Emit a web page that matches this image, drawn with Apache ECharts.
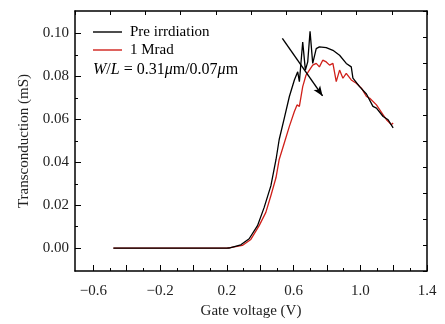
<!DOCTYPE html>
<html>
<head>
<meta charset="utf-8">
<script src="https://cdn.jsdelivr.net/npm/echarts@6/dist/echarts.min.js"></script>
<style>
  html, body { margin: 0; padding: 0; background: #fff; }
  #chart { width: 445px; height: 324px; }
</style>
</head>
<body>
<div id="chart"></div>
<script>
// Transconductance vs. gate voltage, before and after 1 Mrad irradiation
const seriesNames = ['Pre irrdiation', '1 Mrad'];

// Gate voltage (V) and transconductance (mS), pre-irradiation
const preGate = [-0.48, 0.0, 0.2, 0.213, 0.284, 0.334, 0.384, 0.424, 0.464, 0.495, 0.514, 0.545, 0.575,
  0.605, 0.625, 0.635, 0.655, 0.671, 0.685, 0.699, 0.715, 0.736, 0.755, 0.796, 0.836, 0.876, 0.916,
  0.946, 0.956, 0.996, 1.037, 1.076, 1.097, 1.137, 1.167, 1.197];
const preGm = [0, 0, 0, 0.0001, 0.0016, 0.0044, 0.0105, 0.0190, 0.0290, 0.0413, 0.0506, 0.0607, 0.0706,
  0.0783, 0.0821, 0.0775, 0.0960, 0.0829, 0.0867, 0.1009, 0.0860, 0.0929, 0.0937, 0.0934, 0.0921, 0.0898, 0.0860,
  0.0844, 0.0792, 0.0752, 0.0718, 0.0660, 0.0652, 0.0613, 0.0598, 0.0560];

// Gate voltage (V) and transconductance (mS), after 1 Mrad
const radGate = [-0.48, 0.0, 0.2, 0.213, 0.293, 0.344, 0.394, 0.434, 0.464, 0.495, 0.514, 0.545, 0.575,
  0.605, 0.621, 0.635, 0.655, 0.675, 0.695, 0.715, 0.736, 0.755, 0.775, 0.796, 0.816, 0.836, 0.856,
  0.876, 0.896, 0.916, 0.946, 0.976, 1.007, 1.037, 1.057, 1.097, 1.137, 1.157, 1.167, 1.187, 1.197];
const radGm = [0, 0, 0, 0.0002, 0.0013, 0.0041, 0.0105, 0.0167, 0.0244, 0.0329, 0.0413, 0.0491, 0.0567,
  0.0636, 0.0667, 0.0660, 0.0752, 0.0806, 0.0829, 0.0852, 0.0860, 0.0844, 0.0875, 0.0867, 0.0852, 0.0860, 0.0775,
  0.0829, 0.0791, 0.0814, 0.0783, 0.0768, 0.0745, 0.0706, 0.0698, 0.0667, 0.0621, 0.0598, 0.0606, 0.0575, 0.0583];

// Arrow showing the shift of the peak, [gate voltage, transconductance]
const arrowStart = [0.533, 0.0977];
const arrowEnd = [0.774, 0.0709];

// Axis ticks and labels
const xMajorTicks = [-0.6, -0.4, -0.2, 0.0, 0.2, 0.4, 0.6, 0.8, 1.0, 1.2, 1.4];
const xMinorTicks = [-0.5, -0.3, -0.1, 0.1, 0.3, 0.5, 0.7, 0.9, 1.1, 1.3];
const xTickLabels = [-0.6, -0.2, 0.2, 0.6, 1.0, 1.4];
const yMajorTicks = [0, 0.02, 0.04, 0.06, 0.08, 0.10];
const yMinorTicks = [0.01, 0.03, 0.05, 0.07, 0.09];

const zip = (xs, ys) => xs.map((x, i) => [x, ys[i]]);

const FONT = '"Liberation Serif", "Times New Roman", serif';
const xMin = -0.71, xMax = 1.4;
const yMin = -0.0106, yMax = 0.1104;

const chart = echarts.init(document.getElementById('chart'), null, { renderer: 'canvas' });

// Plain frame axes (top and right) carrying only evenly spaced inward ticks
function frameAxis(position) {
  return {
    type: 'value', position: position, min: 0, max: 10, interval: 1,
    axisLine: { show: true, onZero: false, lineStyle: { color: '#000', width: 1.5 } },
    axisTick: { show: true, inside: true, length: 4, lineStyle: { color: '#000', width: 1 } },
    axisLabel: { show: false },
    splitLine: { show: false }
  };
}

chart.setOption({
  animation: false,
  backgroundColor: '#fff',
  grid: { left: 75, right: 18, top: 11, bottom: 53 },
  legend: {
    orient: 'vertical',
    left: 93,
    top: 23,
    padding: 0,
    icon: 'rect',
    itemWidth: 29,
    itemHeight: 1.4,
    itemGap: 0,
    data: seriesNames,
    textStyle: { fontFamily: FONT, fontSize: 15, lineHeight: 18, color: '#000', padding: [0, 0, 0, 3] }
  },
  graphic: [{
    type: 'text',
    left: 93,
    top: 62,
    style: {
      text: '{i|W}/{i|L} = 0.31{i|μ}m/0.07{i|μ}m',
      font: '16px ' + FONT,
      fill: '#000',
      rich: {
        i: { fontStyle: 'italic', fontFamily: FONT, fontSize: 16, fill: '#000' }
      }
    }
  }],
  xAxis: [
    {
      type: 'value', position: 'bottom', min: xMin, max: xMax,
      name: 'Gate voltage (V)', nameLocation: 'middle', nameGap: 26,
      nameTextStyle: { fontFamily: FONT, fontSize: 15, color: '#222' },
      axisLine: { show: true, onZero: false, lineStyle: { color: '#000', width: 1.5 } },
      axisTick: { show: true, inside: true, length: 6, customValues: xMajorTicks, lineStyle: { color: '#000', width: 1 } },
      axisLabel: {
        customValues: xTickLabels, margin: 13,
        fontFamily: FONT, fontSize: 15, color: '#222',
        formatter: v => v.toFixed(1).replace('-', '\u2212')
      },
      splitLine: { show: false }
    },
    {
      type: 'value', position: 'bottom', min: xMin, max: xMax,
      axisLine: { show: false, onZero: false },
      axisTick: { show: true, inside: true, length: 3, customValues: xMinorTicks, lineStyle: { color: '#000', width: 1 } },
      axisLabel: { show: false }, splitLine: { show: false }
    },
    frameAxis('top')
  ],
  yAxis: [
    {
      type: 'value', position: 'left', min: yMin, max: yMax,
      name: 'Transconduction (mS)', nameLocation: 'middle', nameGap: 43,
      nameTextStyle: { fontFamily: FONT, fontSize: 15, color: '#222' },
      axisLine: { show: true, onZero: false, lineStyle: { color: '#000', width: 1.5 } },
      axisTick: { show: true, inside: true, length: 6, customValues: yMajorTicks, lineStyle: { color: '#000', width: 1 } },
      axisLabel: {
        customValues: yMajorTicks, margin: 6,
        fontFamily: FONT, fontSize: 15, color: '#222',
        formatter: v => v.toFixed(2)
      },
      splitLine: { show: false }
    },
    {
      type: 'value', position: 'left', min: yMin, max: yMax,
      axisLine: { show: false, onZero: false },
      axisTick: { show: true, inside: true, length: 3, customValues: yMinorTicks, lineStyle: { color: '#000', width: 1 } },
      axisLabel: { show: false }, splitLine: { show: false }
    },
    frameAxis('right')
  ],
  series: [
    {
      name: seriesNames[0], type: 'line', xAxisIndex: 0, yAxisIndex: 0,
      data: zip(preGate, preGm), symbol: 'none', smooth: false,
      lineStyle: { color: '#000', width: 1.3 }, itemStyle: { color: '#000' },
      z: 3
    },
    {
      name: seriesNames[1], type: 'line', xAxisIndex: 0, yAxisIndex: 0,
      data: zip(radGate, radGm), symbol: 'none', smooth: false,
      lineStyle: { color: '#d0201a', width: 1.3 }, itemStyle: { color: '#d0201a' },
      z: 2,
      markLine: {
        silent: true,
        symbol: ['none', 'arrow'],
        symbolSize: [6, 10],
        label: { show: false },
        itemStyle: { color: '#000' },
        lineStyle: { color: '#000', width: 1.4, type: 'solid' },
        data: [[{ coord: arrowStart }, { coord: arrowEnd }]]
      }
    }
  ]
});
</script>
</body>
</html>
